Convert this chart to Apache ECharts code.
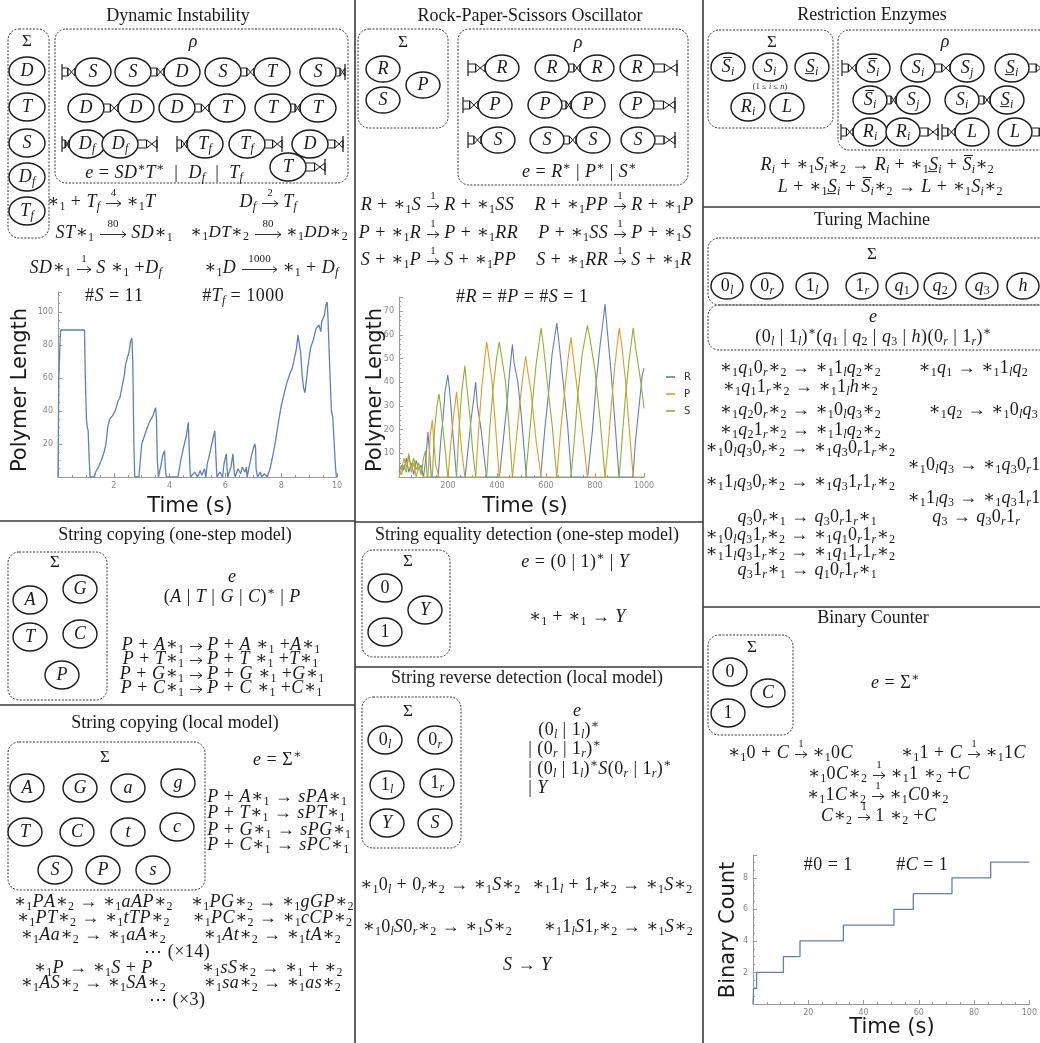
<!DOCTYPE html>
<html><head><meta charset="utf-8">
<script src="https://cdn.jsdelivr.net/npm/echarts@6/dist/echarts.min.js"></script>
<style>html,body{margin:0;padding:0;background:#fff}#c{width:1040px;height:1043px}</style>
</head><body><div id="c"></div>
<script>
// ---------------- DATA ----------------
// Dynamic Instability: [time (s), polymer length]
const diSeries = [[0,0],[0.03,60],[0.08,85],[0.1,89],[0.95,89],[0.98,60],[1.02,35],[1.05,30],[1.08,28],[1.12,10],[1.15,0],[1.3,0],[1.35,3],[1.45,6],[1.55,10],[1.65,15],[1.72,20],[1.78,30],[1.85,35],[1.95,37],[2.05,40],[2.15,46],[2.22,48],[2.3,55],[2.38,62],[2.42,68],[2.5,73],[2.55,76],[2.6,82],[2.65,84],[2.68,70],[2.72,20],[2.75,0],[2.9,0],[2.95,10],[3.0,20],[3.1,25],[3.2,30],[3.3,34],[3.4,37],[3.5,42],[3.53,35],[3.56,10],[3.6,0],[3.65,0],[3.7,8],[3.75,13],[3.82,16],[3.85,5],[3.88,0],[4.3,0],[4.4,10],[4.5,18],[4.6,25],[4.67,33],[4.7,34],[4.73,5],[4.75,0],[4.9,3],[5.0,0],[5.1,4],[5.15,1],[5.25,5],[5.3,0],[5.35,8],[5.45,15],[5.55,23],[5.62,28],[5.65,29],[5.68,5],[5.7,0],[5.8,3],[5.9,0],[5.95,8],[6.03,14],[6.08,0],[6.2,6],[6.27,14],[6.32,2],[6.35,0],[6.45,5],[6.55,2],[6.6,6],[6.7,3],[6.75,6],[6.78,0],[6.85,6],[6.95,14],[7.05,20],[7.08,18],[7.1,5],[7.15,0],[7.25,3],[7.3,0],[7.4,2],[7.5,0],[7.6,5],[7.7,13],[7.8,22],[7.9,33],[8.0,43],[8.1,50],[8.2,57],[8.3,62],[8.4,66],[8.5,74],[8.55,78],[8.6,86],[8.65,86],[8.7,75],[8.75,62],[8.8,54],[8.85,51],[8.9,58],[8.95,66],[9.05,78],[9.15,83],[9.25,90],[9.35,92],[9.42,88],[9.45,94],[9.55,98],[9.6,104],[9.65,106],[9.68,95],[9.72,75],[9.75,62],[9.8,40],[9.85,36],[9.9,20],[9.95,5],[9.98,0],[10,0]];
// Rock-Paper-Scissors: [time (s), polymer length]
const rpsR = [[0,2],[10,5],[20,3],[30,8],[40,2],[50,6],[60,1],[70,7],[80,3],[90,5],[100,0],[110,8],[118,19],[125,10],[132,0],[160,0],[170,15],[180,25],[188,36],[199,43],[205,38],[212,30],[220,18],[235,0],[270,0],[285,15],[295,25],[305,33],[313,40],[320,30],[335,20],[357,0],[410,0],[425,15],[440,30],[452,45],[463,56],[470,48],[485,40],[500,25],[520,0],[578,0],[595,20],[610,35],[625,52],[644,65],[655,55],[670,40],[688,22],[704,0],[770,0],[790,20],[805,40],[820,55],[832,65],[841,73],[850,62],[865,45],[880,25],[898,0],[955,0],[965,15],[975,25],[985,35],[993,43],[1000,46]];
const rpsP = [[0,0],[10,3],[20,8],[30,4],[40,10],[50,2],[60,6],[70,0],[80,4],[90,2],[100,0],[118,0],[128,18],[136,24],[142,15],[150,5],[163,0],[200,0],[212,15],[222,25],[235,36],[242,28],[255,12],[269,0],[313,0],[325,20],[338,38],[350,50],[358,57],[365,52],[380,40],[395,20],[409,0],[463,0],[478,15],[490,28],[505,42],[517,51],[525,45],[540,35],[560,15],[580,0],[644,0],[660,20],[675,35],[690,50],[702,59],[712,50],[730,35],[750,18],[769,0],[841,0],[855,15],[868,32],[882,48],[899,63],[910,55],[925,40],[940,20],[956,0],[1000,0]];
const rpsS = [[0,3],[10,1],[20,5],[30,2],[40,9],[50,4],[60,8],[70,3],[80,6],[90,1],[100,8],[108,11],[115,0],[136,0],[145,20],[155,30],[163,35],[170,30],[180,20],[190,10],[199,0],[235,0],[245,20],[255,35],[269,47],[275,40],[290,25],[300,12],[313,0],[358,0],[370,20],[385,38],[398,50],[409,57],[420,50],[435,40],[450,20],[463,0],[517,0],[530,15],[545,32],[560,48],[580,63],[590,55],[605,40],[625,22],[644,0],[702,0],[715,15],[730,35],[748,52],[769,64],[780,58],[800,45],[820,25],[841,0],[899,0],[912,18],[925,35],[940,50],[956,63],[965,55],[980,45],[990,38],[1000,29]];
const rpsNames = ['R','P','S'];
// Binary counter: [time (s), count] (count reached at that time)
const bcSteps = [[0,0],[0.2,1],[1.3,2],[11,3],[17,4],[32.7,5],[51,6],[58,7],[72,8],[86,9],[100,9]];
// axis ranges [min, max, interval]
const diX = [0,10,2], diY = [0,112,20];
const rpsX = [0,1000,200], rpsY = [0,76,10];
const bcX = [0,100,20], bcY = [0,9.45,2];

// ---------------- HELPERS ----------------
const SERIF = "'Liberation Serif','DejaVu Serif',serif";
const SANS = "'DejaVu Sans',sans-serif";
const INK = '#1a1a1a';
const MS = 18;
const G = [];
function richSet(sz){
  const sub = Math.round(sz*0.68), lh = Math.round(sz*1.2);
  const pad = sz >= 14 ? [0,0.25,0,0.25] : [0,0.1,0,0.1];
  const b = {fontFamily:SERIF, fill:INK};
  return {
    i:Object.assign({}, b, {fontStyle:'italic', fontSize:sz, lineHeight:lh, padding:pad}),
    r:Object.assign({}, b, {fontSize:sz, lineHeight:lh, padding:pad}),
    bi:Object.assign({}, b, {fontStyle:'italic', fontSize:sub, lineHeight:sub, verticalAlign:'bottom'}),
    br:Object.assign({}, b, {fontSize:sub, lineHeight:sub, verticalAlign:'bottom'}),
    ti:Object.assign({}, b, {fontStyle:'italic', fontSize:sub, lineHeight:sub, verticalAlign:'top'}),
    tr:Object.assign({}, b, {fontSize:sub, lineHeight:sub, verticalAlign:'top'})
  };
}
const isL = c => /[A-Za-zα-ω]/.test(c);
function toRich(s){
  let out=''; let i=0;
  const tok=(n,c)=>{ out += '{'+n+'|'+c+'}'; };
  while(i<s.length){
    const c=s[i];
    if(c==='_'){ const n=s[i+1]; tok(isL(n)?'bi':'br', n); i+=2; continue; }
    if(c==='^'){ let n=s[i+1]; if(n==='*') n='\u2217'; tok(isL(n)?'ti':'tr', n); i+=2; continue; }
    if(c==='*'){ const n=s[i+1]; tok('r','\u2217'); if(n && /[0-9]/.test(n)){ tok('br', n); i+=2; } else i+=1; continue; }
    if(c==='!'){ tok('i', s[i+1]+'\u0305'); i+=2; continue; }
    if(c==='?'){ tok('i', s[i+1]+'\u0332'); i+=2; continue; }
    tok(isL(c)?'i':'r', c); i++;
  }
  return out;
}
function M(x,y,s,o){ o=o||{};
  G.push({type:'text', x:x, y:y, z:20, silent:true,
    style:{text:toRich(s), rich:richSet(o.size||MS), align:o.align||'center', verticalAlign:'middle', fill:INK}});
}
function P(x,y,s,o){ o=o||{};
  G.push({type:'text', x:x, y:y, rotation:o.rot||0, z:20, silent:true,
    style:{text:s, fontFamily:o.font||SERIF, fontSize:o.size||18, fill:o.color||INK, align:o.align||'center', verticalAlign:'middle'}});
}
function L(x1,y1,x2,y2,o){ o=o||{};
  G.push({type:'line', z:o.z||5, shape:{x1,y1,x2,y2}, style:{stroke:o.color||INK, lineWidth:o.w||1}});
}
function box(x,y,w,h){
  G.push({type:'rect', z:4, shape:{x,y,width:w,height:h,r:11}, style:{fill:'none', stroke:'#333', lineWidth:1, lineDash:[2,1.5]}});
}
let RX=18, RY=14;
function circ(cx,cy,label,rx,ry){
  G.push({type:'ellipse', z:10, shape:{cx,cy,rx:rx||RX,ry:ry||RY}, style:{fill:'#fff', stroke:INK, lineWidth:1.4}});
  M(cx,cy,label);
}
function conn(x0,x1,cy){
  const a = x0+(x1-x0)*0.45, h=4;
  G.push({type:'polyline', z:11, shape:{points:[[x0,cy-h],[a,cy-h],[a,cy+h],[x0,cy+h]]}, style:{fill:'none', stroke:INK, lineWidth:1}});
  G.push({type:'polygon', z:11, shape:{points:[[a,cy-h],[x1,cy+h],[x1,cy-h],[a,cy+h]]}, style:{fill:'none', stroke:INK, lineWidth:1}});
}
function bar(x,cy){ L(x,cy-8,x,cy+8,{w:1.2,z:11}); }
function pair(c1,c2,cy,l1,l2){ circ(c1,cy,l1); circ(c2,cy,l2); conn(c1+RX,c2-RX,cy); }
function lEnd(bx,c,cy,l){ bar(bx,cy); conn(bx,c-RX,cy); circ(c,cy,l); }
function rEnd(c,bx,cy,l){ circ(c,cy,l); conn(c+RX,bx,cy); bar(bx,cy); }
function eqA(xa,y,left,right,label,w,sz){
  M(xa-6,y,left,{align:'right',size:sz});
  M(xa+w+5,y,right,{align:'left',size:sz});
  const ay=y+1.5;
  L(xa,ay,xa+w,ay,{w:0.9,z:20});
  G.push({type:'polyline', z:20, shape:{points:[[xa+w-4,ay-3],[xa+w,ay],[xa+w-4,ay+3]]}, style:{fill:'none', stroke:INK, lineWidth:0.9}});
  if(label) M(xa+w/2,y-9,label,{size:11});
}

// ---------------- PANEL BORDERS ----------------
const BC='#3a3a3a';
L(355,0,355,1043,{color:BC,w:1.6}); L(703,0,703,1043,{color:BC,w:1.6});
L(0,521,355,521,{color:BC,w:1.6}); L(0,705,355,705,{color:BC,w:1.6});
L(355,522,703,522,{color:BC,w:1.6}); L(355,667,703,667,{color:BC,w:1.6});
L(703,207,1040,207,{color:BC,w:1.6}); L(703,607,1040,607,{color:BC,w:1.6});

// ---------------- DYNAMIC INSTABILITY ----------------
P(178,16,'Dynamic Instability');
RX=18; RY=14;
box(8,29,41,209); P(27,42,'Σ',{size:17});
[['D',71],['T',107],['S',143],['D_f',177],['T_f',211]].forEach(a=>circ(27,a[1],a[0]));
box(55,29,293,154); M(193,42,'ρ');
lEnd(62,93,72,'S'); pair(133,182,72,'S','D'); pair(223,272,72,'S','T'); rEnd(318,345,72,'S');
pair(86,136,108,'D','D'); pair(177,227,108,'D','T'); pair(273,318,108,'T','T');
lEnd(62,87,144,'D_f'); rEnd(120,157,144,'D_f'); lEnd(177,205,144,'T_f'); rEnd(247,282,144,'T_f'); rEnd(310,343,144,'D');
rEnd(288,325,167,'T');
M(164,173,'e = SD^*T^*  |  D_f  |  T_f');
eqA(106,202,'*1 + T_f','*1T','4',15);
eqA(262,202,'D_f','T_f','2',16);
eqA(100,233,'ST*1','SD*1','80',26);
eqA(255,233,'*1DT*2','*1DD*2','80',26,17);
eqA(77,268,'SD*1','S *1 +D_f','1',14);
eqA(242,268,'*1D','*1 + D_f','1000',35);
M(114,296,'#S = 11'); M(243,296,'#T_f = 1000');
P(21,390,'Polymer Length',{font:SANS,size:21,rot:Math.PI/2});
P(190,507,'Time (s)',{font:SANS,size:21});

// ---------------- ROCK PAPER SCISSORS ----------------
P(530,16,'Rock-Paper-Scissors Oscillator');
RX=17; RY=13;
box(358,29,90,99); P(403,43,'Σ',{size:17});
circ(383,69,'R'); circ(423,85,'P'); circ(383,100,'S');
box(458,29,230,156); M(578,43,'ρ');
lEnd(468,502,68,'R'); pair(552,597,68,'R','R'); rEnd(637,677,68,'R');
lEnd(463,495,105,'P'); pair(545,588,105,'P','P'); rEnd(637,675,105,'P');
lEnd(468,498,140,'S'); pair(547,593,140,'S','S'); rEnd(638,675,140,'S');
M(579,172,'e = R^* | P^* | S^*');
eqA(427,205,'R + *1S','R + *1SS','1',12); eqA(614,205,'R + *1PP','R + *1P','1',12);
eqA(427,233,'P + *1R','P + *1RR','1',12); eqA(614,233,'P + *1SS','P + *1S','1',12);
eqA(427,260,'S + *1P','S + *1PP','1',12); eqA(614,260,'S + *1RR','S + *1R','1',12);
M(522,297,'#R = #P = #S = 1');
P(376,390,'Polymer Length',{font:SANS,size:21,rot:Math.PI/2});
P(525,507,'Time (s)',{font:SANS,size:21});

// ---------------- RESTRICTION ENZYMES ----------------
P(872,15,'Restriction Enzymes');
RX=17; RY=14;
box(708,30,125,98); P(772,43,'Σ',{size:17});
circ(728,67,'!S_i'); circ(770,67,'S_i'); circ(812,67,'?S_i');
M(770,87,'(1 ≤ i ≤ n)',{size:8});
circ(748,107,'R_i'); circ(787,107,'L');
box(838,30,215,120); M(945,42,'ρ');
lEnd(842,873,68,'!S_i'); pair(918,967,68,'S_i','S_j'); circ(1012,68,'?S_i'); conn(1029,1045,68);
pair(870,913,100,'!S_i','S_j'); pair(962,1007,100,'S_i','?S_i');
lEnd(841,870,132,'R_i'); rEnd(903,938,132,'R_i'); lEnd(942,972,132,'L'); circ(1015,132,'L'); conn(1032,1048,132);
M(877,165,'R_i + *1S_i*2 → R_i + *1?S_i + !S_i*2');
M(890,187,'L + *1?S_i + !S_i*2 → L + *1S_i*2');

// ---------------- TURING MACHINE ----------------
P(872,220,'Turing Machine');
RX=16; RY=13;
box(708,238,345,67); P(872,255,'Σ',{size:17});
[['0_l',727],['0_r',767],['1_l',812],['1_r',862],['q_1',902],['q_2',940],['q_3',982],['h',1023]].forEach(a=>circ(a[1],286,a[0]));
box(708,305,345,45); M(873,317,'e'); M(873,337,'(0_l | 1_l)^*(q_1 | q_2 | q_3 | h)(0_r | 1_r)^*');
const TL=800;
M(TL,368,'*1q_10_r*2 → *11_lq_2*2'); M(918,368,'*1q_1 → *11_lq_2',{align:'left'});
M(TL,387,'*1q_11_r*2 → *11_lh*2');
M(TL,410,'*1q_20_r*2 → *10_lq_3*2'); M(928,410,'*1q_2 → *10_lq_3',{align:'left'});
M(TL,430,'*1q_21_r*2 → *11_lq_2*2');
M(TL,448,'*10_lq_30_r*2 → *1q_30_r1_r*2');
M(907,465,'*10_lq_3 → *1q_30_r1_r',{align:'left'});
M(TL,482,'*11_lq_30_r*2 → *1q_31_r1_r*2');
M(907,498,'*11_lq_3 → *1q_31_r1_r',{align:'left'});
M(807,517,'q_30_r*1 → q_30_r1_r*1'); M(932,517,'q_3 → q_30_r1_r',{align:'left'});
M(TL,535,'*10_lq_31_r*2 → *1q_10_r1_r*2');
M(TL,552,'*11_lq_31_r*2 → *1q_11_r1_r*2');
M(807,570,'q_31_r*1 → q_10_r1_r*1');

// ---------------- BINARY COUNTER ----------------
P(873,618,'Binary Counter');
RX=17; RY=14;
box(708,635,85,100); P(752,648,'Σ',{size:17});
circ(730,672,'0'); circ(768,693,'C'); circ(728,713,'1');
M(895,683,'e = Σ^*');
eqA(795,753,'*10 + C','*10C','1',12); eqA(968,753,'*11 + C','*11C','1',12);
eqA(873,774,'*10C*2','*11 *2 +C','1',12);
eqA(872,795,'*11C*2','*1C0*2','1',12);
eqA(858,816,'C*2','1 *2 +C','1',12);
M(828,865,'#0 = 1'); M(922,865,'#C = 1');
P(729,930,'Binary Count',{font:SANS,size:21,rot:Math.PI/2});
P(892,1028,'Time (s)',{font:SANS,size:21});

// ---------------- STRING COPYING (ONE-STEP) ----------------
P(175,535,'String copying (one-step model)');
RX=17; RY=14;
box(8,552,99,148); P(55,563,'Σ',{size:17});
circ(30,600,'A'); circ(80,589,'G'); circ(30,637,'T'); circ(80,634,'C'); circ(62,675,'P');
M(232,577,'e'); M(232,597,'(A | T | G | C)^* | P');
eqA(190,645,'P + A*1','P + A *1 +A*1',null,12);
eqA(190,659,'P + T*1','P + T *1 +T*1',null,12);
eqA(190,674,'P + G*1','P + G *1 +G*1',null,12);
eqA(190,688,'P + C*1','P + C *1 +C*1',null,12);

// ---------------- STRING COPYING (LOCAL) ----------------
P(175,723,'String copying (local model)');
box(8,742,197,148); P(105,758,'Σ',{size:17});
circ(27,788,'A'); circ(80,788,'G'); circ(128,788,'a'); circ(178,783,'g');
circ(25,832,'T'); circ(77,832,'C'); circ(128,832,'t'); circ(177,827,'c');
circ(55,870,'S'); circ(103,870,'P'); circ(153,870,'s');
M(277,760,'e = Σ^*');
M(207,797,'P + A*1 → sPA*1',{align:'left'});
M(207,813,'P + T*1 → sPT*1',{align:'left'});
M(207,830,'P + G*1 → sPG*1',{align:'left'});
M(207,845,'P + C*1 → sPC*1',{align:'left'});
M(93,902,'*1PA*2 → *1aAP*2'); M(272,902,'*1PG*2 → *1gGP*2');
M(93,918,'*1PT*2 → *1tTP*2'); M(272,918,'*1PC*2 → *1cCP*2');
M(93,935,'*1Aa*2 → *1aA*2'); M(272,935,'*1At*2 → *1tA*2');
M(177,952,'⋯ (×14)');
M(93,968,'*1P → *1S + P'); M(272,968,'*1sS*2 → *1 + *2');
M(93,983,'*1AS*2 → *1SA*2'); M(272,983,'*1sa*2 → *1as*2');
M(177,1000,'⋯ (×3)');

// ---------------- STRING EQUALITY ----------------
P(527,535,'String equality detection (one-step model)');
box(362,550,88,107); P(408,562,'Σ',{size:17});
circ(385,588,'0'); circ(425,610,'Y'); circ(385,632,'1');
M(575,562,'e = (0 | 1)^* | Y');
M(577,617,'*1 + *1 → Y');

// ---------------- STRING REVERSE ----------------
P(527,678,'String reverse detection (local model)');
box(362,697,99,151); P(408,712,'Σ',{size:17});
circ(385,740,'0_l'); circ(435,740,'0_r'); circ(387,785,'1_l'); circ(437,783,'1_r'); circ(387,823,'Y'); circ(435,823,'S');
M(577,711,'e');
M(538,730,'(0_l | 1_l)^*',{align:'left'});
M(528,749,'| (0_r | 1_r)^*',{align:'left'});
M(528,769,'| (0_l | 1_l)^*S(0_r | 1_r)^*',{align:'left'});
M(528,788,'| Y',{align:'left'});
M(440,885,'*10_l + 0_r*2 → *1S*2'); M(612,885,'*11_l + 1_r*2 → *1S*2');
M(437,927,'*10_lS0_r*2 → *1S*2'); M(618,927,'*11_lS1_r*2 → *1S*2');
M(527,965,'S → Y');

// ---------------- CHART ----------------
const AX = '#9a9a9a';
function ax(gi, r, split){
  return {gridIndex:gi, type:'value', min:r[0], max:r[1], interval:r[2],
    axisLine:{lineStyle:{color:AX,width:1}}, axisTick:{inside:true,length:4,lineStyle:{color:AX}},
    minorTick:{show:true,splitNumber:split,length:2,lineStyle:{color:AX}}, splitLine:{show:false},
    axisLabel:{fontSize:8, color:'#888', fontFamily:SANS, margin:5,
      formatter:v=>(v>r[0] && Math.abs(v/r[2]-Math.round(v/r[2]))<1e-6)?String(v):''}};
}
const common = {type:'line', showSymbol:false, symbol:'none', animation:false};
const chart = echarts.init(document.getElementById('c'), null, {renderer:'canvas'});
chart.setOption({
  animation:false,
  backgroundColor:'#fff',
  grid:[
    {left:58, top:292, width:279, height:185},
    {left:399, top:297, width:245, height:180},
    {left:753, top:855, width:282, height:149}
  ],
  xAxis:[ax(0,diX,4), ax(1,rpsX,4), ax(2,bcX,4)],
  yAxis:[ax(0,diY,4), ax(1,rpsY,5), ax(2,bcY,4)],
  legend:{data:rpsNames, orient:'vertical', left:661, top:367, icon:'rect', itemWidth:9, itemHeight:1.6, itemGap:7,
    textStyle:{fontSize:10, color:'#333', fontFamily:SANS, padding:[0,0,0,4]}},
  series:[
    Object.assign({}, common, {name:'DI', xAxisIndex:0, yAxisIndex:0, data:diSeries, color:'#5E81B5', lineStyle:{width:1.3,color:'#5E81B5'}}),
    Object.assign({}, common, {name:'R', xAxisIndex:1, yAxisIndex:1, data:rpsR, color:'#5E81B5', lineStyle:{width:1.1,color:'#5E81B5'}}),
    Object.assign({}, common, {name:'P', xAxisIndex:1, yAxisIndex:1, data:rpsP, color:'#E19C24', lineStyle:{width:1.1,color:'#E19C24'}}),
    Object.assign({}, common, {name:'S', xAxisIndex:1, yAxisIndex:1, data:rpsS, color:'#8FB032', lineStyle:{width:1.1,color:'#8FB032'}}),
    Object.assign({}, common, {name:'BC', xAxisIndex:2, yAxisIndex:2, data:bcSteps, step:'end', color:'#5E81B5', lineStyle:{width:1.3,color:'#5E81B5'}})
  ],
  graphic:{elements:G}
});
</script></body></html>
